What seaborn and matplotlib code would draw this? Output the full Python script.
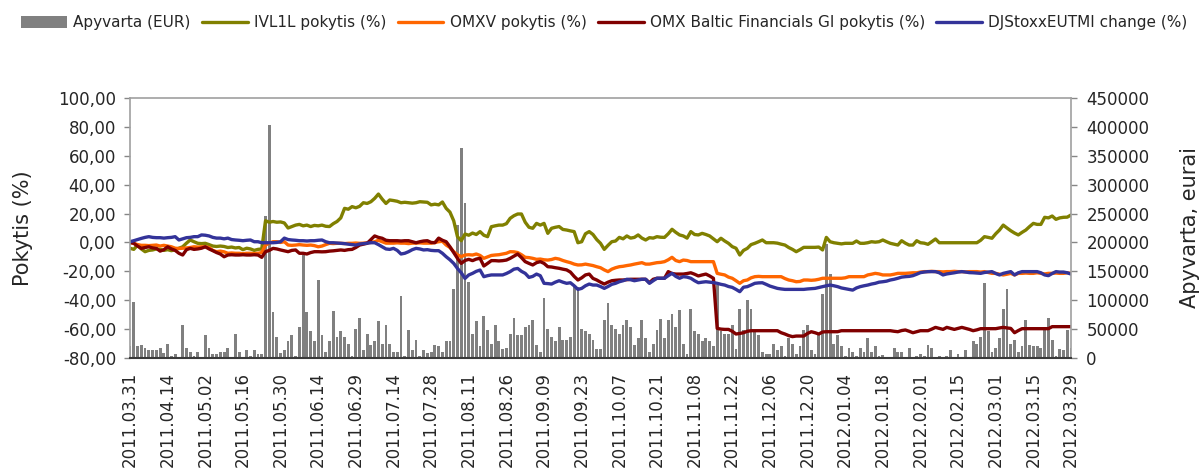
import numpy as np
import pandas as pd
import matplotlib
matplotlib.use("Agg")
import matplotlib.pyplot as plt
import seaborn as sns
from matplotlib.ticker import FuncFormatter, MultipleLocator
from matplotlib.patches import Patch
from matplotlib.lines import Line2D

# ---------------- data ----------------
tick_labels = ["2011.03.31", "2011.04.14", "2011.05.02", "2011.05.16", "2011.05.30",
               "2011.06.14", "2011.06.29", "2011.07.14", "2011.07.28", "2011.08.11",
               "2011.08.26", "2011.09.09", "2011.09.23", "2011.10.07", "2011.10.21",
               "2011.11.08", "2011.11.22", "2011.12.06", "2011.12.20", "2012.01.04",
               "2012.01.18", "2012.02.01", "2012.02.15", "2012.03.01", "2012.03.15",
               "2012.03.29"]

series_names = ["Apyvarta (EUR)", "IVL1L pokytis (%)", "OMXV pokytis (%)",
                "OMX Baltic Financials GI pokytis (%)", "DJStoxxEUTMI change (%)"]

# turnover, thousands EUR, one value per trading day
turnover_k = [
    20, 97, 20, 22, 17, 14, 14, 14, 17, 8,
    25, 3, 7, 1, 57, 17, 11, 3, 10, 1,
    39, 17, 7, 7, 10, 10, 17, 1, 42, 10,
    1, 13, 3, 14, 7, 7, 245, 403, 80, 36,
    8, 14, 30, 39, 3, 54, 178, 80, 46, 30,
    135, 39, 11, 30, 82, 36, 46, 36, 25, 3,
    51, 70, 14, 42, 22, 30, 64, 25, 57, 25,
    10, 10, 107, 3, 48, 14, 32, 3, 14, 8,
    10, 22, 20, 10, 30, 30, 119, 230, 363, 269,
    132, 42, 64, 20, 73, 48, 25, 57, 30, 15,
    17, 42, 70, 39, 39, 54, 57, 65, 22, 11,
    103, 51, 36, 30, 54, 32, 32, 36, 123, 123,
    51, 46, 42, 31, 15, 15, 65, 95, 57, 50,
    42, 57, 65, 54, 22, 35, 65, 35, 10, 25,
    48, 67, 35, 65, 76, 54, 83, 25, 7, 85,
    46, 42, 30, 35, 30, 21, 126, 46, 42, 42,
    57, 15, 85, 48, 100, 85, 46, 39, 10, 7,
    7, 25, 14, 20, 3, 35, 25, 7, 20, 48,
    57, 14, 7, 42, 111, 198, 145, 25, 39, 20,
    3, 17, 10, 3, 17, 10, 35, 10, 20, 3,
    5, 1, 1, 17, 10, 10, 1, 17, 1, 3,
    7, 3, 22, 17, 1, 3, 1, 3, 14, 1,
    7, 2, 14, 1, 30, 25, 36, 129, 46, 11,
    17, 35, 85, 119, 25, 31, 10, 20, 65, 22,
    20, 20, 18, 54, 70, 31, 3, 15, 14, 48,
    17]

ivl1l = [
    -4.0, -4.8, -1.8, -4.5, -6.4, -5.5, -5.2, -4.5, -4.8, -5.5,
    -5.0, -5.7, -5.0, -4.0, -3.0, -0.5, 1.7, 0.5, -0.6, -0.8,
    -0.6, -1.5, -2.5, -2.8, -2.5, -2.8, -3.5, -3.2, -3.8, -3.5,
    -5.0, -4.0, -4.5, -5.5, -4.8, -4.5, 15.0, 14.0, 14.5, 14.0,
    14.2, 13.5, 10.0, 11.0, 12.0, 12.5, 11.5, 12.0, 11.0, 11.8,
    11.5, 12.0, 11.2, 11.0, 13.0, 14.5, 17.0, 23.6, 23.0, 24.8,
    24.0, 25.0, 27.5, 27.0, 28.2, 30.5, 33.5, 30.0, 27.0, 29.4,
    29.0, 28.5, 27.5, 27.8, 27.5, 27.2, 27.5, 28.2, 28.0, 27.8,
    26.0, 26.5, 26.0, 28.0, 23.6, 21.0, 15.0, 4.0, 1.2, 5.8,
    5.0, 6.5, 5.5, 7.5, 5.0, 4.0, 10.9, 11.5, 12.0, 12.0,
    13.0, 16.7, 18.5, 19.7, 19.7, 14.0, 10.5, 9.8, 13.2, 12.0,
    13.2, 6.3, 9.8, 10.5, 11.0, 9.0, 8.6, 8.0, 7.5, -0.2,
    0.5, 6.0, 7.5, 5.5, 2.0, -0.6, -4.8, -2.0, 0.5, 1.0,
    3.5, 2.5, 4.5, 3.0, 3.5, 5.2, 3.0, 1.7, 3.3, 3.0,
    4.0, 3.6, 3.5, 6.0, 9.1, 7.0, 5.2, 4.5, 3.0, 7.5,
    5.5, 5.2, 6.3, 5.5, 4.5, 2.5, 0.5, 2.9, 1.0, -0.6,
    -2.9, -4.0, -8.7, -5.5, -4.1, -1.5, -0.6, 0.5, 1.7, -0.2,
    -0.2, -0.2, -0.5, -1.2, -1.8, -3.5, -4.8, -6.4, -5.0, -3.4,
    -3.4, -3.4, -3.4, -3.2, -5.2, 3.5, 0.5, -0.2, -0.6, -1.0,
    -0.6, -0.6, -0.6, 1.0, -0.6, -0.6, -0.2, 0.5, 0.2, 0.5,
    1.7, 0.5, -0.6, -1.2, -1.8, 1.2, -0.5, -1.8, -1.8, 1.2,
    -0.2, -0.5, -1.3, 0.5, 2.4, -0.2, -0.2, -0.2, -0.2, -0.2,
    -0.2, -0.2, -0.2, -0.2, -0.2, -0.2, 1.5, 4.0, 3.5, 2.9,
    6.0, 8.6, 12.0, 10.0, 8.1, 6.5, 5.2, 7.0, 8.6, 11.0,
    13.2, 12.5, 12.5, 17.4, 17.0, 18.3, 16.0, 17.0, 17.4, 17.5,
    19.0]

omxv = [
    0.0, -0.6, -1.5, -2.0, -2.0, -2.2, -2.0, -1.8, -2.5, -2.0,
    -2.5, -3.0, -4.0, -4.2, -4.0, -3.8, -3.5, -3.0, -3.2, -3.0,
    -3.0, -3.5, -5.5, -6.4, -6.0, -6.5, -7.5, -7.3, -7.5, -7.5,
    -7.8, -7.5, -7.5, -7.8, -7.5, -7.0, -1.8, -0.5, 0.5, 0.5,
    0.0, 0.5, -1.8, -2.0, -1.8, -1.5, -1.8, -2.0, -1.8, -2.2,
    -3.0, -2.5, -1.5, -0.6, -0.8, -0.6, -0.6, -0.8, -0.6, -0.6,
    -0.4, -0.6, -0.5, -0.2, 0.0, 0.5, 1.5, 0.5, -0.5, -0.5,
    -0.5, -0.3, -0.5, -0.5, -0.8, -0.5, -0.5, -0.3, -0.5, -0.5,
    -0.5, 0.0, 0.5, 0.8, -1.8, -3.5, -6.4, -8.5, -9.9, -8.7,
    -8.5, -8.7, -8.0, -9.0, -11.0, -10.0, -9.0, -8.7, -8.5, -8.0,
    -7.5, -6.4, -6.5, -7.0, -8.5, -10.3, -10.5, -11.0, -11.7, -11.5,
    -12.0, -12.2, -11.8, -11.0, -11.5, -12.5, -13.3, -14.0, -15.0, -15.6,
    -15.5, -15.0, -15.5, -16.0, -16.8, -17.5, -19.0, -20.2, -18.5, -17.5,
    -16.8, -16.5, -16.0, -15.6, -15.0, -14.5, -14.0, -15.0, -15.0, -14.5,
    -14.0, -13.8, -13.3, -12.0, -10.3, -12.5, -13.3, -12.2, -12.5, -13.3,
    -13.3, -13.3, -13.3, -13.3, -13.3, -13.3, -21.4, -22.0, -22.5, -24.0,
    -24.8, -26.5, -28.3, -26.5, -26.0, -24.5, -23.7, -23.5, -23.7, -23.7,
    -23.7, -23.7, -23.7, -23.7, -25.0, -26.0, -26.5, -27.2, -27.0, -26.0,
    -26.0, -26.2, -26.0, -25.5, -24.8, -24.8, -24.8, -24.8, -24.8, -24.8,
    -24.5, -23.7, -23.7, -23.7, -23.7, -23.7, -22.5, -22.0, -21.4, -21.8,
    -22.5, -22.5, -22.5, -22.0, -21.4, -21.4, -21.4, -21.2, -21.0, -21.0,
    -20.5, -20.2, -20.2, -20.0, -20.2, -20.2, -20.4, -20.2, -20.2, -20.0,
    -20.2, -20.2, -20.4, -20.2, -20.2, -20.2, -20.5, -20.2, -20.8, -21.4,
    -21.4, -22.0, -22.5, -22.0, -21.4, -22.5, -21.4, -21.4, -21.2, -21.4,
    -21.4, -21.0, -21.4, -21.8, -21.4, -21.4, -21.2, -21.4, -21.4, -21.0,
    -21.4]

baltic_fin = [
    0.0, -0.6, -2.5, -4.1, -3.5, -3.0, -3.8, -4.1, -6.0, -5.0,
    -3.0, -4.5, -5.5, -7.5, -8.7, -5.0, -4.1, -4.8, -4.5, -4.0,
    -3.0, -4.5, -5.7, -7.0, -8.0, -9.9, -8.7, -8.5, -8.7, -8.7,
    -8.5, -8.7, -8.7, -8.5, -8.7, -10.3, -6.4, -5.5, -4.1, -4.5,
    -5.2, -5.8, -6.4, -5.5, -5.2, -7.5, -7.5, -8.0, -7.0, -6.4,
    -6.4, -6.5, -6.4, -6.0, -5.8, -5.5, -5.2, -5.5, -5.0, -4.8,
    -3.5, -1.8, -1.2, -0.6, 2.0, 4.5, 3.5, 2.9, 1.5, 1.2,
    1.2, 1.2, 1.0, 1.2, 1.2, 0.5, -0.2, 0.5, 1.0, 1.2,
    0.0, -0.2, 3.0, 1.5, 0.5, -3.0, -7.0, -11.0, -14.5, -12.5,
    -11.7, -12.6, -11.5, -11.0, -16.3, -14.5, -12.6, -12.6, -12.8, -12.6,
    -12.2, -11.0, -9.5, -8.0, -10.5, -13.3, -14.5, -15.6, -14.0, -13.3,
    -14.5, -16.8, -17.0, -17.5, -17.9, -18.5, -19.0, -20.5, -23.5, -26.0,
    -24.5, -22.5, -21.9, -24.9, -26.0, -27.5, -28.8, -27.5, -26.5, -26.2,
    -26.0, -26.0, -25.8, -25.5, -25.5, -25.5, -25.5, -25.5, -27.9, -25.5,
    -24.8, -24.8, -24.8, -20.2, -21.5, -21.9, -21.9, -21.9, -21.5, -21.0,
    -22.0, -23.2, -22.5, -21.9, -23.2, -24.8, -59.5, -60.0, -60.2, -60.2,
    -61.5, -63.4, -63.0, -62.5, -61.5, -61.1, -61.1, -61.1, -61.1, -61.1,
    -61.1, -61.1, -61.1, -62.5, -63.4, -64.5, -65.2, -64.8, -64.8, -64.8,
    -63.0, -61.8, -62.5, -63.4, -62.0, -61.8, -61.8, -61.8, -61.8, -61.1,
    -61.1, -61.1, -61.1, -61.1, -61.1, -61.1, -61.1, -61.1, -61.1, -61.1,
    -61.1, -61.1, -61.1, -61.5, -61.8, -61.0, -60.6, -61.5, -62.5, -61.8,
    -61.1, -61.1, -61.1, -60.0, -58.8, -59.5, -60.2, -58.8, -59.5, -60.2,
    -59.5, -58.8, -59.5, -60.2, -61.1, -60.5, -59.7, -59.7, -59.7, -59.7,
    -59.7, -59.2, -58.8, -59.2, -59.5, -62.5, -61.0, -59.7, -59.7, -59.7,
    -59.7, -59.7, -59.7, -59.7, -59.7, -58.3, -58.3, -58.3, -58.3, -58.3,
    -58.3]

djstoxx = [
    0.5, 1.2, 2.0, 2.8, 3.5, 4.0, 3.5, 3.3, 3.3, 3.0,
    3.3, 3.5, 4.0, 1.7, 2.5, 3.3, 3.5, 4.0, 4.0, 5.2,
    5.0, 4.5, 3.5, 3.0, 3.0, 2.5, 3.0, 2.0, 1.7, 1.5,
    1.2, 1.5, 1.7, 0.5, 0.5, -0.2, -0.2, -0.2, -0.2, 0.0,
    0.5, 3.0, 2.0, 1.7, 1.5, 1.2, 1.2, 1.0, 1.2, 1.2,
    1.5, 1.7, 0.5, -0.2, -0.2, -0.4, -0.6, -0.8, -1.2, -1.5,
    -1.8, -1.1, -0.8, -0.5, -0.2, -0.2, -1.5, -3.0, -4.5, -4.8,
    -4.1, -5.5, -8.0, -7.5, -6.4, -5.0, -4.1, -4.5, -5.2, -5.0,
    -5.5, -5.7, -5.7, -7.5, -9.9, -12.0, -14.5, -18.0, -21.0, -24.9,
    -22.5, -21.4, -20.0, -19.1, -23.7, -23.0, -22.5, -22.5, -22.5, -22.5,
    -21.5, -20.2, -18.5, -18.0, -20.0, -21.4, -24.2, -23.5, -21.9, -23.0,
    -28.3, -28.5, -28.8, -27.5, -26.5, -27.5, -28.3, -27.9, -30.0, -32.5,
    -31.8, -30.0, -28.8, -29.5, -29.5, -30.5, -31.8, -30.5, -29.0, -28.3,
    -27.2, -26.5, -25.5, -25.8, -26.5, -26.0, -25.5, -25.5, -28.3, -26.5,
    -24.8, -24.8, -24.8, -23.0, -21.4, -23.5, -24.8, -23.7, -24.0, -24.8,
    -26.5, -27.9, -27.5, -27.2, -27.5, -27.8, -28.3, -29.0, -29.5, -30.5,
    -31.1, -32.5, -34.1, -31.0, -30.6, -29.5, -28.3, -28.0, -27.9, -29.0,
    -30.2, -31.0, -31.8, -32.2, -32.5, -32.5, -32.5, -32.5, -32.5, -32.5,
    -32.2, -32.0, -31.8, -31.2, -30.6, -30.0, -29.5, -30.0, -30.6, -31.5,
    -32.0, -32.5, -33.0, -31.5, -30.6, -30.0, -29.5, -28.8, -28.3, -27.5,
    -27.2, -26.8, -26.0, -25.5, -24.8, -24.0, -23.7, -23.5, -23.0, -22.0,
    -20.9, -20.5, -20.2, -20.2, -20.2, -21.0, -22.5, -21.8, -21.4, -21.0,
    -20.5, -20.2, -20.5, -20.9, -21.0, -21.2, -21.4, -20.8, -20.5, -20.2,
    -21.5, -22.5, -21.4, -20.8, -20.2, -22.5, -21.0, -20.2, -20.2, -20.2,
    -20.2, -20.2, -21.0, -22.5, -23.0, -21.5, -20.2, -20.5, -20.5, -21.0,
    -21.9]

colors = ["#808080", "#808000", "#FF6600", "#800000", "#333399"]

# ---------------- plot ----------------
sns.set_style("white")
plt.rcParams["font.family"] = ["DejaVu Sans"]

n = len(ivl1l)
df = pd.DataFrame({
    "day": np.arange(n),
    "turnover": np.array(turnover_k, dtype=float) * 1000.0,
    "ivl1l": ivl1l,
    "omxv": omxv,
    "baltic": baltic_fin,
    "dj": djstoxx,
})

W, H = 1199, 471
fig = plt.figure(figsize=(W / 100, H / 100), dpi=100)
left, right, top, bottom = 130, 1071, 98, 358
ax = fig.add_axes([left / W, 1 - bottom / H, (right - left) / W, (bottom - top) / H])
ax2 = ax.twinx()

sns.barplot(data=df, x="day", y="turnover", ax=ax2, color=colors[0], saturation=1,
            width=0.75, native_scale=True, errorbar=None, linewidth=0)

for col, c in zip(["ivl1l", "omxv", "baltic", "dj"], colors[1:]):
    sns.lineplot(data=df, x="day", y=col, ax=ax, color=c, linewidth=2.4, legend=False)

ax.set_zorder(ax2.get_zorder() + 1)
ax.patch.set_visible(False)

ax.set_xlim(0, n - 1)
ax.set_ylim(-80, 100)
ax2.set_ylim(0, 450000)

ax.set_xticks(np.arange(0, n, 10))
ax.set_xticklabels(tick_labels, rotation=90, fontsize=12)
ax.tick_params(axis="x", length=0, pad=10)

ax.yaxis.set_major_locator(MultipleLocator(20))
ax.yaxis.set_major_formatter(FuncFormatter(lambda v, p: f"{v:.2f}".replace(".", ",")))
ax.tick_params(axis="y", length=4, color="#868686", width=1, labelsize=12, pad=6,
               direction="out", left=True)

ax2.yaxis.set_major_locator(MultipleLocator(50000))
ax2.yaxis.set_major_formatter(FuncFormatter(lambda v, p: f"{int(round(v))}"))
ax2.tick_params(axis="y", length=4, color="#868686", width=1, labelsize=12, pad=7,
                direction="out", right=True)

ax.set_xlabel("")
ax2.set_xlabel("")
ax.set_ylabel("Pokytis (%)", fontsize=15)
ax2.set_ylabel("Apyvarta, eurai", fontsize=15)
ax.yaxis.set_label_coords(-0.103, 0.5)
ax2.yaxis.set_label_coords(1.1158, 0.5)

for sp in ["left", "right", "top"]:
    ax.spines[sp].set_color("#A0A0A0")
    ax.spines[sp].set_linewidth(1.2)
ax.spines["bottom"].set_color("#3a3a3a")
ax.spines["bottom"].set_linewidth(1.5)
for sp in ax2.spines.values():
    sp.set_visible(False)

handles = [Patch(facecolor=colors[0], edgecolor="none")] + \
          [Line2D([], [], color=c, linewidth=2.4) for c in colors[1:]]
fig.legend(handles, series_names, loc="center left", bbox_to_anchor=(21 / W, 1 - 23 / H),
           ncol=5, frameon=False, fontsize=11, handlelength=3.0, handleheight=0.8,
           handletextpad=0.4, columnspacing=0.75, borderaxespad=0, borderpad=0)

fig.savefig("out.png", dpi=100)
